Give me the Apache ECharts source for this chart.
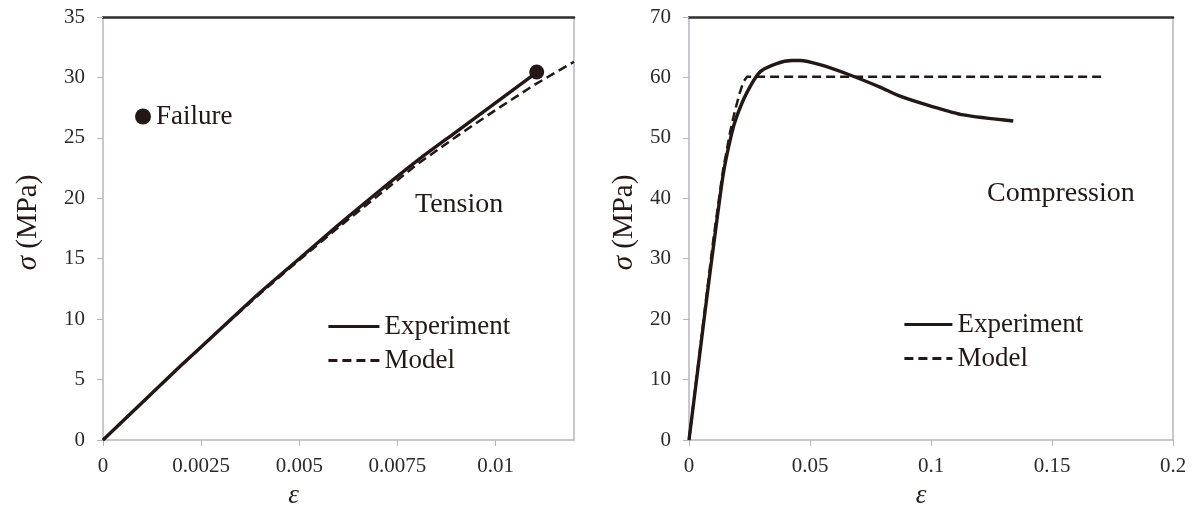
<!DOCTYPE html>
<html>
<head>
<meta charset="utf-8">
<script src="https://cdn.jsdelivr.net/npm/echarts@6/dist/echarts.min.js"></script>
<style>
html,body{margin:0;padding:0;background:#fff;}
#chart{width:1193px;height:514px;}
</style>
</head>
<body>
<div id="chart"></div>
<script>
// ---- Data ----
const tensionExperiment = [
  [0, 0], [0.001, 3.1], [0.002, 6.2], [0.003, 9.2], [0.004, 12.2], [0.005, 15.0],
  [0.006, 17.8], [0.007, 20.5], [0.008, 23.1], [0.009, 25.5], [0.010, 27.9],
  [0.011, 30.3], [0.01105, 30.45]
];
const tensionModel = [
  [0, 0], [0.001, 3.1], [0.002, 6.2], [0.003, 9.2], [0.004, 12.1], [0.005, 14.9],
  [0.006, 17.6], [0.007, 20.2], [0.008, 22.8], [0.009, 25.1], [0.010, 27.3],
  [0.011, 29.4], [0.012, 31.3]
];
const tensionFailure = [[0.01105, 30.45]];
const compressionExperiment = [
  [0, 0], [0.0025, 8], [0.005, 16], [0.0075, 24], [0.0099, 31.4], [0.0142, 44.1],
  [0.0175, 50.5], [0.0197, 53.5], [0.0238, 57.4], [0.0293, 60.9], [0.0362, 62.3],
  [0.0425, 62.8], [0.0459, 62.8], [0.0541, 62.1], [0.0665, 60.4], [0.0789, 58.4],
  [0.0872, 56.9], [0.0996, 55.3], [0.1134, 53.8], [0.134, 52.8]
];
const compressionModel = [
  [0, 0], [0.005, 16.5], [0.010, 33], [0.014, 44.5], [0.017, 51], [0.019, 54.5],
  [0.021, 57.5], [0.0225, 59.3], [0.024, 60.1], [0.172, 60.1]
];
const seriesNames = ['Experiment', 'Model'];
const failureName = 'Failure';
const panelLabels = ['Tension', 'Compression'];
const yAxisName = '{i|σ} (MPa)';
const xAxisName = 'ε';

// ---- Styles ----
const ink = '#231815';
const axisGray = '#b5b5bd';
const serif = 'Liberation Serif';
const tickFont = { fontFamily: serif, fontSize: 21, color: '#2a2a2a' };

function bottomX(grid, min, max, interval, namePad) {
  return {
    type: 'value', gridIndex: grid, min: min, max: max, interval: interval,
    axisLine: { show: true, onZero: false, lineStyle: { color: axisGray, width: 1.5 } },
    axisTick: { show: true, length: 6, lineStyle: { color: axisGray } },
    axisLabel: Object.assign({ margin: 16, showMaxLabel: grid === 1 }, tickFont),
    splitLine: { show: false },
    name: xAxisName, nameLocation: 'middle', nameGap: 42,
    nameTextStyle: { fontFamily: serif, fontStyle: 'italic', fontSize: 27, color: ink, padding: namePad }
  };
}
function topX(grid, min, max) {
  return {
    type: 'value', gridIndex: grid, position: 'top', min: min, max: max,
    axisLine: { show: true, onZero: false, lineStyle: { color: '#2e2e2e', width: 2.5 } },
    axisTick: { show: false }, axisLabel: { show: false }, splitLine: { show: false }
  };
}
function leftY(grid, max, interval, gap) {
  return {
    type: 'value', gridIndex: grid, min: 0, max: max, interval: interval,
    axisLine: { show: true, onZero: false, lineStyle: { color: axisGray, width: 1.5 } },
    axisTick: { show: true, length: 6, lineStyle: { color: axisGray } },
    axisLabel: Object.assign({ margin: 18 }, tickFont),
    splitLine: { show: false },
    name: yAxisName, nameLocation: 'middle', nameGap: gap,
    nameTextStyle: {
      fontFamily: serif, fontSize: 29, color: ink, padding: [0, 0, 0, 12],
      rich: { i: { fontFamily: serif, fontStyle: 'italic', fontSize: 29, color: ink } }
    }
  };
}
function rightY(grid, max) {
  return {
    type: 'value', gridIndex: grid, position: 'right', min: 0, max: max,
    axisLine: { show: true, onZero: false, lineStyle: { color: axisGray, width: 1.5 } },
    axisTick: { show: false }, axisLabel: { show: false }, splitLine: { show: false }
  };
}
function lineSeries(name, data, xi, yi, dashed) {
  return {
    type: 'line', name: name, data: data, xAxisIndex: xi, yAxisIndex: yi,
    symbol: 'none', smooth: dashed ? false : 0.25,
    lineStyle: { color: ink, width: dashed ? 2.5 : 3.4, type: dashed ? [9, 5] : 'solid' },
    itemStyle: { color: ink },
    z: dashed ? 3 : 2
  };
}
const legendText = { fontFamily: serif, fontSize: 27, color: ink };

const option = {
  animation: false,
  backgroundColor: '#ffffff',
  grid: [
    { left: 103, top: 17, width: 471, height: 423 },
    { left: 689, top: 17, width: 484, height: 423 }
  ],
  xAxis: [
    bottomX(0, 0, 0.012, 0.0025, [0, 90, 0, 0]),
    topX(0, 0, 0.012),
    bottomX(1, 0, 0.2, 0.05, [0, 20, 0, 0]),
    topX(1, 0, 0.2)
  ],
  yAxis: [
    leftY(0, 35, 5, 60),
    rightY(0, 35),
    leftY(1, 70, 10, 50),
    rightY(1, 70)
  ],
  legend: [
    {
      data: seriesNames, orient: 'vertical', left: 327, top: 313, itemGap: 7, padding: 0,
      itemWidth: 51, itemHeight: 14, selectedMode: false, textStyle: legendText,
      itemStyle: { opacity: 0 }, lineStyle: { width: 2.8 }
    },
    {
      data: seriesNames, orient: 'vertical', left: 903, top: 311, itemGap: 7, padding: 0,
      itemWidth: 48, itemHeight: 14, selectedMode: false, textStyle: legendText,
      itemStyle: { opacity: 0 }, lineStyle: { width: 2.8 }
    },
    {
      data: [failureName], icon: 'circle', left: 135, top: 103, padding: 0,
      itemWidth: 16, itemHeight: 16, selectedMode: false, textStyle: legendText,
      itemStyle: { color: ink, opacity: 1 }
    }
  ],
  graphic: [
    { type: 'text', left: 415, top: 191, style: { text: panelLabels[0], font: '28px "Liberation Serif"', fill: ink } },
    { type: 'text', left: 987, top: 180, style: { text: panelLabels[1], font: '28px "Liberation Serif"', fill: ink } }
  ],
  series: [
    lineSeries(seriesNames[0], tensionExperiment, 0, 0, false),
    lineSeries(seriesNames[1], tensionModel, 0, 0, true),
    {
      type: 'scatter', name: failureName, data: tensionFailure, xAxisIndex: 0, yAxisIndex: 0,
      symbol: 'circle', symbolSize: 15, itemStyle: { color: ink, opacity: 1 }, z: 5
    },
    lineSeries(seriesNames[0], compressionExperiment, 2, 2, false),
    lineSeries(seriesNames[1], compressionModel, 2, 2, true)
  ]
};

const chart = echarts.init(document.getElementById('chart'), null, { renderer: 'canvas' });
chart.setOption(option);
</script>
</body>
</html>
